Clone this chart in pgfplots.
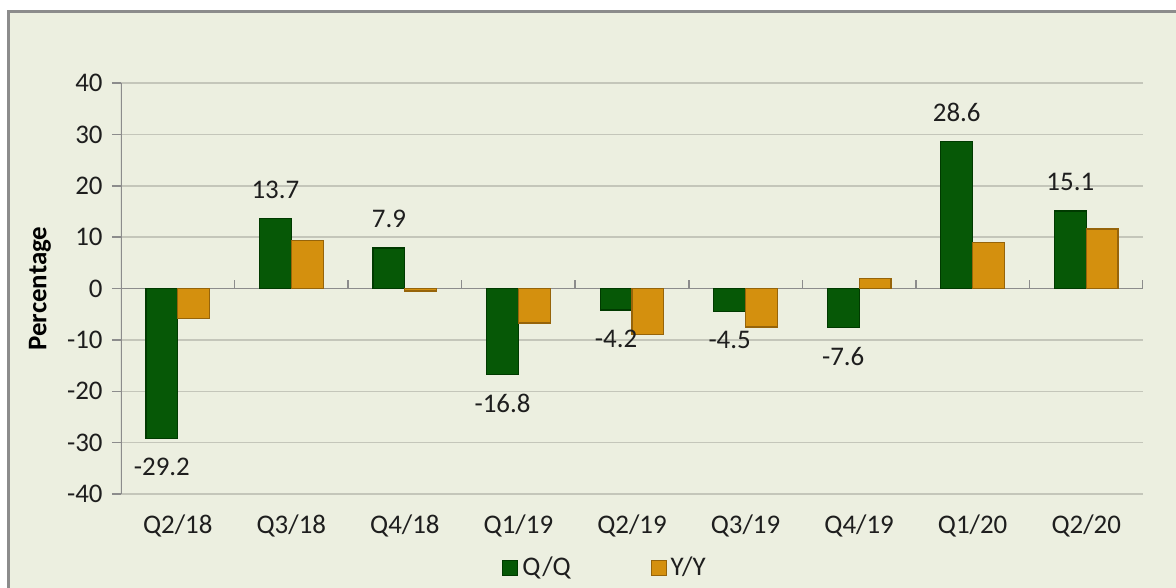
\documentclass[border=0pt]{standalone}
\usepackage{fontspec}
\setmainfont{Carlito}
\usepackage{pgfplots}
\pgfplotsset{compat=1.18}
\definecolor{bgc}{RGB}{236,239,224}
\definecolor{framec}{RGB}{140,140,140}
\definecolor{gridc}{RGB}{196,198,186}
\definecolor{axisc}{RGB}{140,140,140}
\definecolor{txtc}{RGB}{30,30,30}
\definecolor{qgreen}{RGB}{6,88,6}
\definecolor{qgreend}{RGB}{0,58,0}
\definecolor{ygold}{RGB}{212,144,14}
\definecolor{ygoldd}{RGB}{150,100,10}
\begin{document}
\begin{tikzpicture}[font=\fontsize{13.5}{15}\selectfont, text=txtc]
\clip (-60.5bp,-47bp) rectangle (527.5bp,247bp);
\fill[white] (-60.5bp,-47bp) rectangle (527.5bp,247bp);
\filldraw[fill=bgc, draw=framec, line width=1.5bp] (-56bp,-70bp) rectangle (545bp,241bp);
\begin{axis}[
  at={(0,0)}, anchor=south west, scale only axis,
  width=511bp, height=205.5bp,
  xmin=-0.5, xmax=8.5, ymin=-40, ymax=40,
  ybar=0pt, bar width=0.28,
  xtick={0,...,8},
  xticklabels={Q2/18,Q3/18,Q4/18,Q1/19,Q2/19,Q3/19,Q4/19,Q1/20,Q2/20},
  xtick style={draw=none},
  ytick={-40,-30,...,40},
  tick pos=left,
  tick align=outside, major tick length=4.5bp,
  ytick style={axisc, line width=0.75bp},
  ymajorgrids, grid style={gridc, line width=0.75bp},
  axis line style={draw=none},
  /pgf/number format/assume math mode=true,
  yticklabel style={font=\fontsize{13.5}{15}\selectfont, text=txtc, xshift=-1.2bp},
  xticklabel style={font=\fontsize{13.5}{15}\selectfont, text=txtc, yshift=-2.2bp},
  ylabel={\bfseries Percentage},
  ylabel style={at={(axis description cs:-0.0793,0.5)}, anchor=center, font=\fontsize{13.5}{15}\selectfont, text=black},
  legend columns=2,
  legend style={at={(axis description cs:0.4746,-0.18)}, anchor=center, draw=none, fill=none,
    font=\fontsize{13.5}{15}\selectfont, /tikz/every even column/.append style={column sep=38bp}},
  legend image code/.code={\draw[#1, line width=0.5bp] (0bp,-3.75bp) rectangle (7.5bp,3.75bp);},
]
\draw[axisc, line width=0.75bp] (axis cs:-0.5,-40) -- (axis cs:-0.5,40);
\draw[axisc, line width=0.75bp] (axis cs:-0.5,0) -- (axis cs:8.5,0);
\pgfplotsinvokeforeach{0.5,1.5,2.5,3.5,4.5,5.5,6.5,7.5,8.5}{\draw[axisc, line width=0.75bp] (axis cs:#1,0) -- (axis cs:#1,1.56);}
\addplot[fill=qgreen, draw=qgreend, line width=0.6bp,
  nodes near coords={\pgfmathprintnumber[fixed,precision=1,fixed zerofill]{\pgfplotspointmeta}},
  nodes near coords align=vertical,
  every node near coord/.append style={font=\fontsize{13.5}{15}\selectfont, text=txtc, inner ysep=9.6bp}
] coordinates {(0,-29.2) (1,13.7) (2,7.9) (3,-16.8) (4,-4.2) (5,-4.5) (6,-7.6) (7,28.6) (8,15.1)};
\addlegendentry{Q/Q}
\addplot[fill=ygold, draw=ygoldd, line width=0.6bp]
  coordinates {(0,-5.8) (1,9.4) (2,-0.5) (3,-6.7) (4,-9.0) (5,-7.5) (6,2.0) (7,8.9) (8,11.6)};
\addlegendentry{Y/Y}
\end{axis}
\end{tikzpicture}
\end{document}
